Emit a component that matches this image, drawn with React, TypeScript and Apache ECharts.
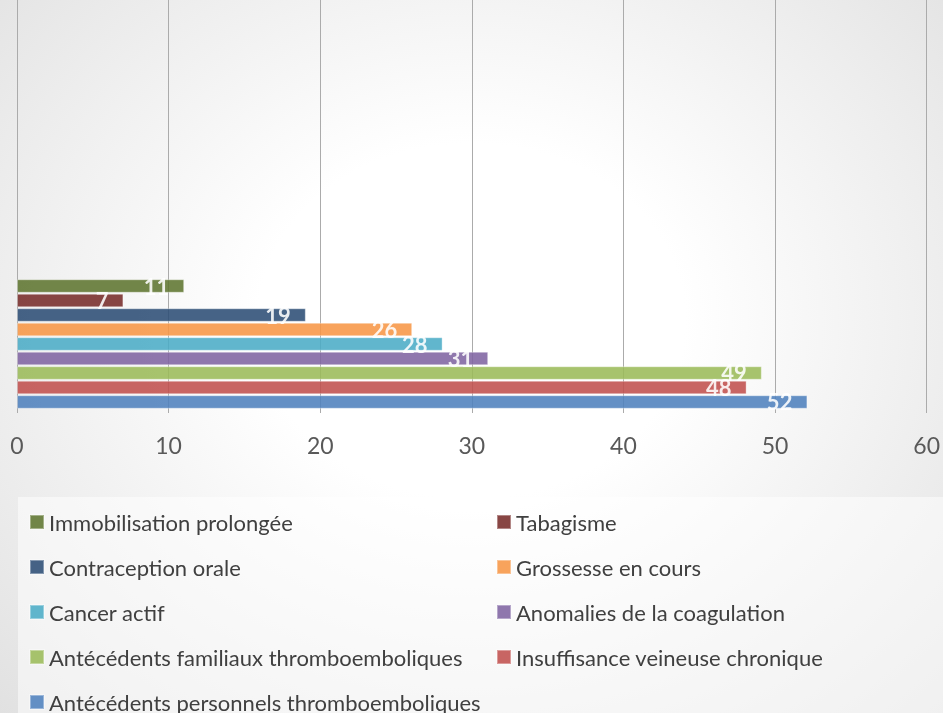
import React, { useEffect, useRef } from "react";
import * as echarts from "echarts";

const seriesNames = [
  "Immobilisation prolongée",
  "Tabagisme",
  "Contraception orale",
  "Grossesse en cours",
  "Cancer actif",
  "Anomalies de la coagulation",
  "Antécédents familiaux thromboemboliques",
  "Insuffisance veineuse chronique",
  "Antécédents personnels thromboemboliques",
];
const seriesValues = [11, 7, 19, 26, 28, 31, 49, 48, 52];
const seriesColors = [
  "#5F7530",
  "#772C2A",
  "#2C4D75",
  "#F79646",
  "#4BACC6",
  "#8064A2",
  "#9BBB59",
  "#C0504D",
  "#4F81BD",
];
const xTicks = [0, 10, 20, 30, 40, 50, 60];
const leftLegend = [0, 2, 4, 6, 8].map((i) => seriesNames[i]);
const rightLegend = [1, 3, 5, 7].map((i) => seriesNames[i]);

const FONT = "Lato";

export default function App() {
  const ref = useRef<HTMLDivElement>(null);
  useEffect(() => {
    if (!ref.current) return;
    const chart = echarts.init(ref.current, undefined, { renderer: "svg" });
    const legendCommon = {
      type: "plain",
      orient: "vertical",
      itemWidth: 14,
      itemHeight: 14,
      itemGap: 21,
      icon: "rect",
      height: 300,
      textStyle: { fontFamily: FONT, fontSize: 22, color: "#404040", lineHeight: 24 },
      padding: 0,
    };
    chart.setOption({
      animation: false,
      graphic: [
        {
          type: "rect",
          z: -1,
          silent: true,
          shape: { x: 18, y: 497, width: 940, height: 230 },
          style: { fill: "rgba(255,255,255,0.5)" },
        },
      ],
      legend: [
        { ...legendCommon, left: 29, top: 510, data: leftLegend },
        { ...legendCommon, left: 496, top: 510, data: rightLegend },
      ],
      grid: [
        { left: 17, right: 14, top: 0, bottom: 300 },
        { left: 17, right: 14, top: 275, bottom: 300 },
      ],
      xAxis: [
        {
          type: "value",
          gridIndex: 0,
          min: xTicks[0],
          max: xTicks[xTicks.length - 1],
          interval: 10,
          axisLine: { show: false },
          axisTick: { show: false },
          splitLine: { show: true, lineStyle: { color: "#ababab", width: 1 } },
          axisLabel: {
            fontFamily: FONT,
            fontSize: 23,
            color: "#595959",
            margin: 20,
          },
        },
        {
          type: "value",
          gridIndex: 1,
          min: xTicks[0],
          max: xTicks[xTicks.length - 1],
          interval: 10,
          show: false,
          splitLine: { show: false },
        },
      ],
      yAxis: [
        { type: "value", gridIndex: 0, show: false, splitLine: { show: false } },
        {
          type: "category",
          gridIndex: 1,
          data: [""],
          show: false,
        },
      ],
      series: seriesNames.map((name, i) => ({
        name,
        type: "bar",
        xAxisIndex: 1,
        yAxisIndex: 1,
        data: [seriesValues[i]],
        barWidth: 13.5,
        barGap: "7.4%",
        itemStyle: {
          color: seriesColors[i],
          opacity: 0.88,
          borderColor: "rgba(255,255,255,0.4)",
          borderWidth: 1,
        },
        label: {
          show: true,
          position: "insideRight",
          distance: 15,
          color: "#ffffff",
          fontFamily: FONT,
          fontWeight: "bold",
          fontSize: 22,
        },
      })),
    });
    return () => chart.dispose();
  }, []);
  return (
    <div
      ref={ref}
      style={{
        position: "fixed",
        left: 0,
        top: 0,
        width: 943,
        height: 713,
        background:
          "radial-gradient(ellipse at 50% 45%, #ffffff 32%, #e1e1e1 100%)",
      }}
    />
  );
}
